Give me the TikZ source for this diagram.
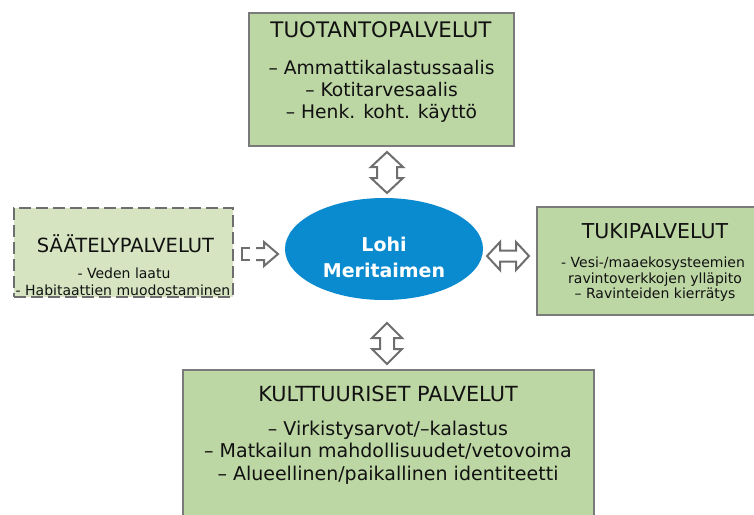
\documentclass[tikz,border=0pt]{standalone}
\usepackage{fontspec}
\setmainfont{DejaVu Sans}
\usetikzlibrary{shapes.geometric,calc}
\definecolor{boxgreen}{HTML}{BDD7A4}
\definecolor{lightgreen}{HTML}{D6E4C1}
\definecolor{edgegray}{HTML}{7A7A7A}
\definecolor{arrowgray}{HTML}{6E6E6E}
\definecolor{ellblue}{HTML}{0B8BCF}
\definecolor{txt}{HTML}{111111}
\newcommand\vdarrow[6]{% cx, ytop, ybottom, head half width, shaft half width, head length
  \draw[blockarrow] (#1,#2) -- ({#1+#4},{#2+#6}) -- ({#1+#5},{#2+#6}) -- ({#1+#5},{#3-#6})
    -- ({#1+#4},{#3-#6}) -- (#1,#3) -- ({#1-#4},{#3-#6}) -- ({#1-#5},{#3-#6})
    -- ({#1-#5},{#2+#6}) -- ({#1-#4},{#2+#6}) -- cycle;}
\newcommand\hdarrow[6]{% cy, xleft, xright, head half height, shaft half height, head length
  \draw[blockarrow] (#2,#1) -- ({#2+#6},{#1-#4}) -- ({#2+#6},{#1-#5}) -- ({#3-#6},{#1-#5})
    -- ({#3-#6},{#1-#4}) -- (#3,#1) -- ({#3-#6},{#1+#4}) -- ({#3-#6},{#1+#5})
    -- ({#2+#6},{#1+#5}) -- ({#2+#6},{#1+#4}) -- cycle;}
\begin{document}
\begin{tikzpicture}[x=1pt,y=-1pt,
  svcbox/.style={draw=edgegray, line width=2pt, fill=boxgreen, inner sep=0pt},
  ttl/.style={anchor=base, text=txt, font=\fontsize{21.4}{22}\selectfont},
  itm/.style={anchor=base, text=txt, font=\fontsize{18.7}{20}\selectfont},
  sitm/.style={anchor=base, text=txt, font=\fontsize{14}{16}\selectfont},
  etxt/.style={anchor=base, text=white, font=\fontsize{19}{20}\selectfont\bfseries},
  blockarrow/.style={draw=arrowgray, line width=2pt, fill=white, line join=miter}]
\useasboundingbox (0,0) rectangle (754,514);
\fill[white] (0,0) rectangle (754,514);

% boxes
\node[svcbox, minimum width=265pt, minimum height=133pt] (tuo) at (381.5,79.5) {};
\node[svcbox, fill=lightgreen, draw=edgegray!90!black, dash pattern=on 12pt off 5pt, minimum width=219pt, minimum height=89pt] (saa) at (123.5,252.5) {};
\node[svcbox, minimum width=234pt, minimum height=108pt] (tuki) at (654,261) {};
\node[svcbox, minimum width=411pt, minimum height=160pt] (kult) at (388.5,450) {};
\node[ellipse, fill=ellblue, minimum width=198pt, minimum height=102pt, inner sep=0pt] (lohi) at (384,249) {};

% texts
\node[ttl] (tuo-t) at (381,37) {TUOTANTOPALVELUT};
\node[itm] (tuo-1) at (381.5,74) {– Ammattikalastussaalis};
\node[itm] (tuo-2) at (381.5,96) {– Kotitarvesaalis};
\node[itm] (tuo-3) at (381.5,118) {– Henk. koht. käyttö};

\node[ttl, font=\fontsize{19.5}{20}\selectfont] (saa-t) at (125.5,252) {SÄÄTELYPALVELUT};
\node[sitm] (saa-1) at (124,278) {- Veden laatu};
\node[sitm] (saa-2) at (123,295) {- Habitaattien muodostaminen};

\node[ttl, font=\fontsize{20.5}{20}\selectfont] (tuki-t) at (655,238) {TUKIPALVELUT};
\node[sitm] (tuki-1) at (653,267) {- Vesi-/maaekosysteemien};
\node[sitm] (tuki-2) at (655,283) {ravintoverkkojen ylläpito};
\node[sitm] (tuki-3) at (655,298) {– Ravinteiden kierrätys};

\node[ttl, font=\fontsize{20.8}{20}\selectfont] (kult-t) at (388,401) {KULTTUURISET PALVELUT};
\node[itm, font=\fontsize{19}{20}\selectfont] (kult-1) at (388,435) {– Virkistysarvot/–kalastus};
\node[itm, font=\fontsize{19}{20}\selectfont] (kult-2) at (388,457) {– Matkailun mahdollisuudet/vetovoima};
\node[itm, font=\fontsize{19}{20}\selectfont] (kult-3) at (388,480) {– Alueellinen/paikallinen identiteetti};

\node[etxt] (lohi-1) at (384,251) {Lohi};
\node[etxt] (lohi-2) at (384,277) {Meritaimen};

% block arrows
\vdarrow{387}{152}{193}{16}{10}{15}
\vdarrow{387}{323}{364}{15}{7}{15}
\hdarrow{256}{487}{529}{14}{5.5}{13}
\draw[blockarrow, fill=none] (250,248) -- (242,248) -- (242,260) -- (250,260);
\draw[blockarrow] (256,248) -- (264,248) -- (264,242) -- (278,254) -- (264,266) -- (264,260) -- (256,260);
\end{tikzpicture}
\end{document}
